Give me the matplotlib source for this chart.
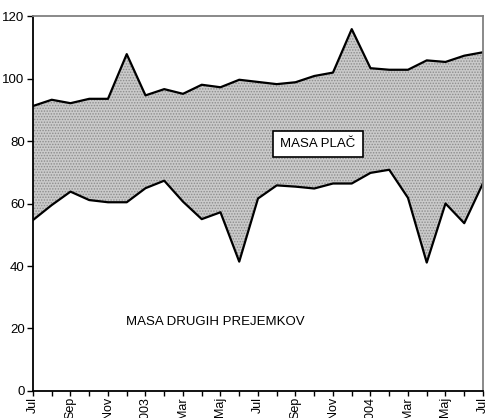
import matplotlib
matplotlib.use("Agg")
import matplotlib.pyplot as plt
import numpy as np

plt.rcParams['font.family'] = ['Liberation Sans', 'DejaVu Sans']
plt.rcParams['hatch.color'] = '#8c8c8c'
plt.rcParams['hatch.linewidth'] = 0.7

months = ["Jul", "Avg", "Sep", "Okt", "Nov", "Dec", "2003", "Feb", "Mar", "Apr", "Maj", "Jun",
          "Jul", "Avg", "Sep", "Okt", "Nov", "Dec", "2004", "Feb", "Mar", "Apr", "Maj", "Jun", "Jul"]
masa_plac = [91.2, 93.2, 92.1, 93.5, 93.5, 107.8, 94.6, 96.6, 95.1, 98.0, 97.2, 99.6,
             98.9, 98.2, 98.8, 100.8, 101.9, 115.8, 103.3, 102.8, 102.8, 105.8, 105.3, 107.3, 108.4]
masa_drugih = [54.7, 59.5, 63.8, 61.1, 60.4, 60.4, 64.9, 67.3, 60.6, 55.0, 57.2, 41.4,
               61.6, 65.8, 65.4, 64.8, 66.4, 66.4, 69.8, 70.8, 61.8, 41.1, 60.0, 53.7, 66.5]
y_ticks = [0, 20, 40, 60, 80, 100, 120]

x = np.arange(len(months))

fig = plt.figure(figsize=(4.9, 4.18), dpi=100)
ax = fig.add_axes([0.0673, 0.0646, 0.9184, 0.8971])

ax.fill_between(x, masa_drugih, masa_plac, facecolor='#cacaca', hatch='......',
                edgecolor='#8c8c8c', linewidth=0)
ax.plot(x, masa_plac, color='black', lw=1.6)
ax.plot(x, masa_drugih, color='black', lw=1.6)

ax.set_xlim(0, len(months) - 1)
ax.set_ylim(0, 120)
ax.set_yticks(y_ticks)
ax.set_yticklabels([str(v) for v in y_ticks], fontsize=9.5)
ax.set_xticks(x)
ax.set_xticklabels([m if i % 2 == 0 else "" for i, m in enumerate(months)],
                   rotation=90, fontsize=9, va='top', ha='center')
ax.tick_params(axis='y', direction='out', length=4, width=1, color='black', pad=2)
ax.tick_params(axis='x', direction='out', length=3.5, width=1, color='black', pad=1)

for s in ['left', 'bottom']:
    ax.spines[s].set_color('black')
    ax.spines[s].set_linewidth(1.3)
for s in ['top', 'right']:
    ax.spines[s].set_color('#808080')
    ax.spines[s].set_linewidth(1.3)

ax.text(15.2, 79.0, "MASA PLAČ", fontsize=9.5, ha='center', va='center',
        bbox=dict(boxstyle='square,pad=0.55', facecolor='white', edgecolor='black', lw=1.2))
ax.text(9.7, 22.0, "MASA DRUGIH PREJEMKOV", fontsize=9.5, ha='center', va='center')

fig.savefig("out.png", dpi=100)
